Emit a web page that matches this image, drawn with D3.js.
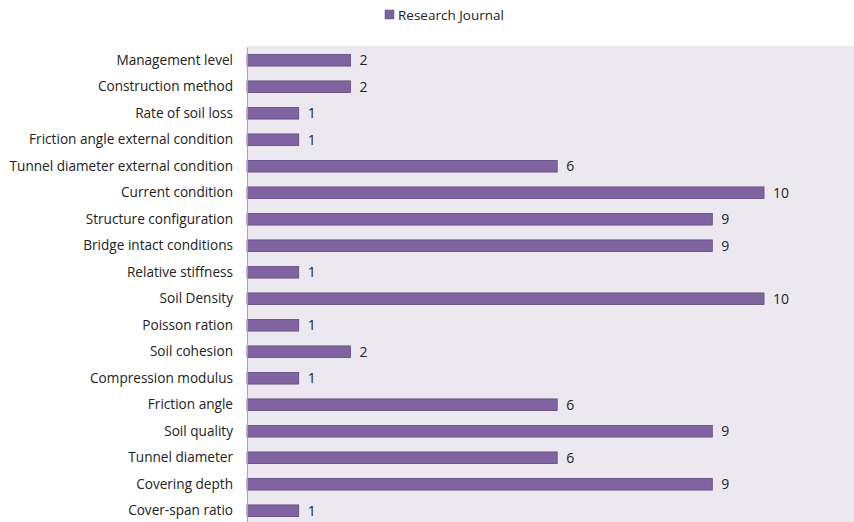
<!DOCTYPE html>
<html><head><meta charset="utf-8">
<script src="https://cdn.jsdelivr.net/npm/d3@7"></script>
<style>body{margin:0;background:#fff;}svg{display:block;font-family:"Open Sans","Noto Sans",sans-serif;}</style>
</head><body>
<svg id="c" width="854" height="522"></svg>
<script>
const categories = ["Management level","Construction method","Rate of soil loss","Friction angle external condition","Tunnel diameter external condition","Current condition","Structure configuration","Bridge intact conditions","Relative stiffness","Soil Density","Poisson ration","Soil cohesion","Compression modulus","Friction angle","Soil quality","Tunnel diameter","Covering depth","Cover-span ratio"];
const values = [2,2,1,1,6,10,9,9,1,10,1,2,1,6,9,6,9,1];
const seriesName = "Research Journal";

const svg = d3.select("#c");
const plotLeft = 247, plotTop = 46, rowH = 26.5;
const x = d3.scaleLinear().domain([0,10]).range([plotLeft, 764]);
const y = d3.scaleBand().domain(categories).range([plotTop + 1, plotTop + 1 + rowH*categories.length]).paddingInner(0.56).paddingOuter(0.28);

svg.append("rect").attr("x", plotLeft).attr("y", plotTop).attr("width", 854-plotLeft).attr("height", 522-plotTop).attr("fill", "#ebe9ef");

svg.selectAll(".bar").data(values).enter().append("rect")
  .attr("x", x(0)).attr("y", (d,i)=>y(categories[i]))
  .attr("width", d=>x(d)-x(0)).attr("height", y.bandwidth())
  .attr("fill", "#8064a2").attr("stroke", "#5e4a7c").attr("stroke-width", 0.8);

svg.selectAll(".val").data(values).enter().append("text")
  .attr("x", d=>x(d)+9).attr("y", (d,i)=>y(categories[i])+y.bandwidth()/2)
  .attr("dy", "0.35em").attr("font-size", 14).attr("fill", "#222").text(d=>d);

const ax = svg.append("g").attr("transform", `translate(${plotLeft},0)`).call(d3.axisLeft(y).tickSize(0).tickPadding(14));
ax.select(".domain").attr("stroke", "#a6a6a6");
ax.selectAll("text").attr("font-size", 13.6).attr("fill", "#222").attr("font-family", '"Open Sans","Noto Sans",sans-serif');

const lg = svg.append("g");
lg.append("rect").attr("x", 385).attr("y", 10).attr("width", 9).attr("height", 9).attr("fill", "#8064a2").attr("stroke","#5e4a7c").attr("stroke-width",0.5);
lg.append("text").attr("x", 398).attr("y", 15).attr("dy","0.35em").attr("font-size", 13.5).attr("fill", "#222").text(seriesName);
</script>
</body></html>
